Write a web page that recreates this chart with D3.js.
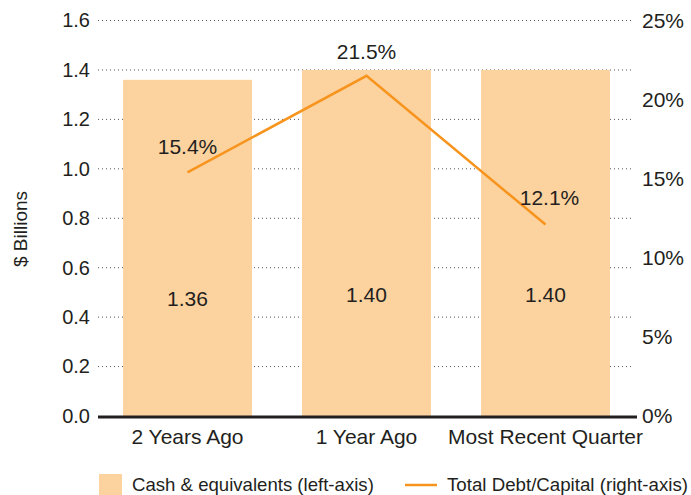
<!DOCTYPE html>
<html>
<head>
<meta charset="utf-8">
<script src="https://cdn.jsdelivr.net/npm/d3@7"></script>
<style>
body { margin: 0; background: #fff; }
text { font-family: "Liberation Sans", Arial, sans-serif; fill: #231f20; }
</style>
</head>
<body>
<div id="chart"></div>
<script>
// data
var categories = ["2 Years Ago", "1 Year Ago", "Most Recent Quarter"];
var cash = [1.36, 1.40, 1.40];
var debtCapital = [15.4, 21.5, 12.1];
var leftTicks = [0, 0.2, 0.4, 0.6, 0.8, 1.0, 1.2, 1.4, 1.6];
var rightTicks = [0, 5, 10, 15, 20, 25];

var width = 691, height = 495;
var barColor = "#fcd29f", lineColor = "#f7941d";

var svg = d3.select("#chart").append("svg")
    .attr("width", width)
    .attr("height", height);

var x = d3.scaleBand()
    .domain(categories)
    .range([98, 635])
    .paddingInner(0.28)
    .paddingOuter(0.14);

var yLeft = d3.scaleLinear().domain([0, 1.6]).range([416, 20.5]);
var yRight = d3.scaleLinear().domain([0, 25]).range([416, 20.5]);

// gridlines (dotted)
svg.append("g")
  .selectAll("line")
  .data(leftTicks.filter(function(d) { return d > 0; }))
  .enter().append("line")
    .attr("x1", 98)
    .attr("x2", 632)
    .attr("y1", function(d) { return yLeft(d); })
    .attr("y2", function(d) { return yLeft(d); })
    .attr("stroke", "#555")
    .attr("stroke-width", 1)
    .attr("stroke-dasharray", "1,3");

// left axis
var leftAxis = svg.append("g")
    .attr("transform", "translate(90,0)")
    .call(d3.axisLeft(yLeft).tickValues(leftTicks).tickFormat(d3.format(".1f")).tickSize(0).tickPadding(0));
leftAxis.select(".domain").remove();
leftAxis.selectAll("text").attr("font-size", "20px").attr("font-family", null).attr("fill", "#231f20");

// right axis
var rightAxis = svg.append("g")
    .attr("transform", "translate(642,0)")
    .call(d3.axisRight(yRight).tickValues(rightTicks).tickFormat(function(d) { return d + "%"; }).tickSize(0).tickPadding(0));
rightAxis.select(".domain").remove();
rightAxis.selectAll("text").attr("font-size", "21px").attr("font-family", null).attr("fill", "#231f20");

// y title
svg.append("text")
    .attr("transform", "translate(27,229) rotate(-90)")
    .attr("text-anchor", "middle")
    .attr("font-size", "19px")
    .text("$ Billions");

// bars
svg.append("g")
  .selectAll("rect")
  .data(cash)
  .enter().append("rect")
    .attr("x", function(d, i) { return x(categories[i]); })
    .attr("y", function(d) { return yLeft(d); })
    .attr("width", x.bandwidth())
    .attr("height", function(d) { return yLeft(0) - yLeft(d); })
    .attr("fill", barColor);

// bar labels
svg.append("g")
  .selectAll("text")
  .data(cash)
  .enter().append("text")
    .attr("x", function(d, i) { return x(categories[i]) + x.bandwidth() / 2; })
    .attr("y", function(d) { return yLeft(d * 0.35); })
    .attr("dy", "0.35em")
    .attr("text-anchor", "middle")
    .attr("font-size", "21px")
    .text(function(d) { return d.toFixed(2); });

// x axis line
svg.append("line")
    .attr("x1", 98).attr("x2", 637)
    .attr("y1", 417).attr("y2", 417)
    .attr("stroke", "#231f20")
    .attr("stroke-width", 3);

// x labels
svg.append("g")
  .selectAll("text")
  .data(categories)
  .enter().append("text")
    .attr("x", function(d) { return x(d) + x.bandwidth() / 2; })
    .attr("y", 437)
    .attr("dy", "0.35em")
    .attr("text-anchor", "middle")
    .attr("font-size", "21px")
    .text(function(d) { return d; });

// line
var line = d3.line()
    .x(function(d, i) { return x(categories[i]) + x.bandwidth() / 2; })
    .y(function(d) { return yRight(d); });

svg.append("path")
    .datum(debtCapital)
    .attr("d", line)
    .attr("fill", "none")
    .attr("stroke", lineColor)
    .attr("stroke-width", 2.5);

var labelOffsets = [[0, -26], [0, -24], [4, -27]];
svg.append("g")
  .selectAll("text")
  .data(debtCapital)
  .enter().append("text")
    .attr("x", function(d, i) { return x(categories[i]) + x.bandwidth() / 2 + labelOffsets[i][0]; })
    .attr("y", function(d, i) { return yRight(d) + labelOffsets[i][1]; })
    .attr("dy", "0.35em")
    .attr("text-anchor", "middle")
    .attr("font-size", "21px")
    .text(function(d) { return d.toFixed(1) + "%"; });

// legend
var legend = svg.append("g");
legend.append("rect")
    .attr("x", 99).attr("y", 474)
    .attr("width", 23).attr("height", 21)
    .attr("fill", barColor);
legend.append("text")
    .attr("x", 132).attr("y", 484)
    .attr("dy", "0.35em")
    .attr("font-size", "18.6px")
    .text("Cash & equivalents (left-axis)");
legend.append("line")
    .attr("x1", 405).attr("x2", 437)
    .attr("y1", 485).attr("y2", 485)
    .attr("stroke", lineColor)
    .attr("stroke-width", 2.5);
legend.append("text")
    .attr("x", 447).attr("y", 484)
    .attr("dy", "0.35em")
    .attr("font-size", "18.7px")
    .text("Total Debt/Capital (right-axis)");
</script>
</body>
</html>
